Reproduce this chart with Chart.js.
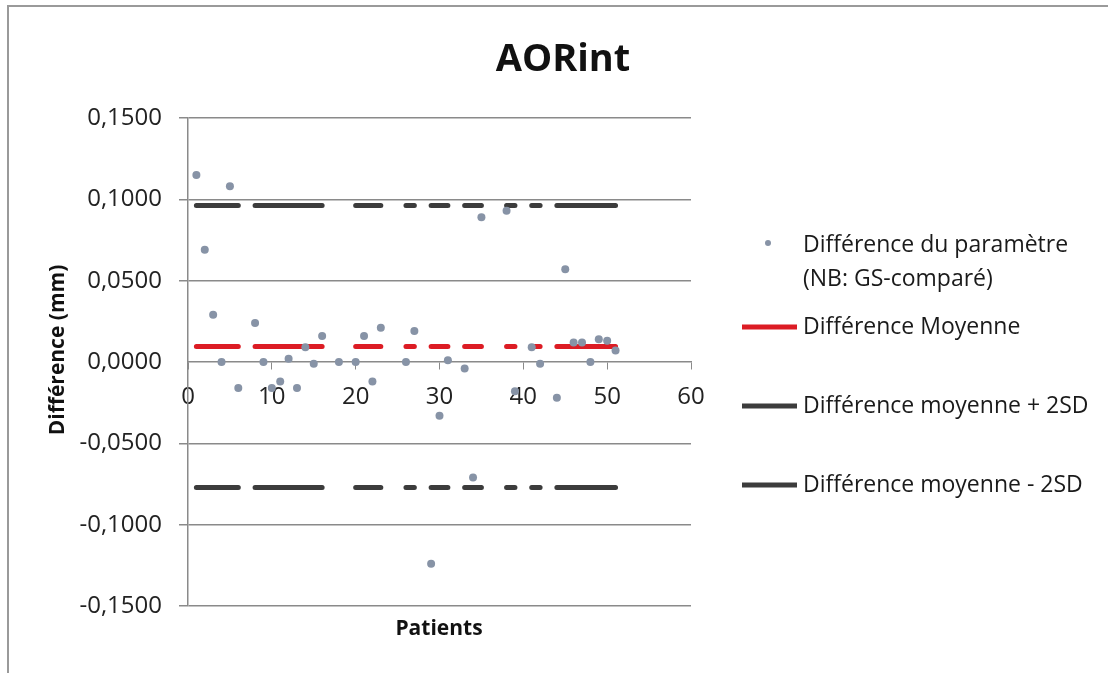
<!DOCTYPE html>
<html>
<head>
<meta charset="utf-8">
<script src="https://cdn.jsdelivr.net/npm/chart.js@4.4.1/dist/chart.umd.min.js"></script>
<style>
  html, body { margin: 0; padding: 0; background: #ffffff; }
  #c { display: block; }
</style>
</head>
<body>
<canvas id="c" width="1108" height="673"></canvas>
<script>
// ---- Data ----
const chartTitle = 'AORint';
const xAxisTitle = 'Patients';
const yAxisTitle = 'Différence (mm)';

const patients = [1, 2, 3, 4, 5, 6, 8, 9, 10, 11, 12, 13, 14, 15, 16, 18, 20, 21, 22, 23,
                  26, 27, 29, 30, 31, 33, 34, 35, 38, 39, 41, 42, 44, 45, 46, 47, 48, 49, 50, 51];
const differences = [0.115, 0.069, 0.029, 0.000, 0.108, -0.016, 0.024, 0.000, -0.016, -0.012,
                     0.002, -0.016, 0.009, -0.001, 0.016, 0.000, 0.000, 0.016, -0.012, 0.021,
                     0.000, 0.019, -0.124, -0.033, 0.001, -0.004, -0.071, 0.089, 0.093, -0.018,
                     0.009, -0.001, -0.022, 0.057, 0.012, 0.012, 0.000, 0.014, 0.013, 0.007];

// runs of consecutive patients over which the reference lines are drawn
const lineRuns = [[1, 6], [8, 16], [20, 23], [26, 27], [29, 31], [33, 35], [38, 39], [41, 42], [44, 51]];
const meanDifference = 0.0095;
const upperLimit = 0.0962;   // moyenne + 2SD
const lowerLimit = -0.0772;  // moyenne - 2SD

const seriesLabels = ['Différence du paramètre\n(NB: GS-comparé)', 'Différence Moyenne',
                      'Différence moyenne + 2SD', 'Différence moyenne - 2SD'];

const xTicks = [0, 10, 20, 30, 40, 50, 60];
const yTicks = [-0.15, -0.10, -0.05, 0, 0.05, 0.10, 0.15];

// ---- Build library data from the arrays ----
function runsAt(value) {
  const out = [];
  lineRuns.forEach(([a, b], i) => {
    for (let p = a; p <= b; p++) out.push({ x: p, y: value });
    if (i < lineRuns.length - 1) out.push({ x: b + 0.5, y: null });
  });
  return out;
}
const pointData = patients.map((p, i) => ({ x: p, y: differences[i] }));

const FONT = '"Open Sans", "DejaVu Sans", sans-serif';

const decorPlugin = {
  id: 'decor',
  beforeDraw(chart) {
    const ctx = chart.ctx;
    ctx.save();
    ctx.fillStyle = '#ffffff';
    ctx.fillRect(0, 0, chart.width, chart.height);
    ctx.strokeStyle = '#9a9a9a';
    ctx.lineWidth = 2;
    ctx.beginPath();
    ctx.moveTo(8, chart.height + 2);
    ctx.lineTo(8, 6);
    ctx.lineTo(chart.width + 2, 6);
    ctx.stroke();
    ctx.restore();
  },
  afterDraw(chart) {
    const ctx = chart.ctx;
    ctx.save();
    // title
    ctx.fillStyle = '#111111';
    ctx.font = 'bold 38px ' + FONT;
    ctx.textAlign = 'center';
    ctx.textBaseline = 'alphabetic';
    ctx.fillText(chartTitle, 563, 71);
    // x axis title
    ctx.font = 'bold 21px ' + FONT;
    ctx.fillText(xAxisTitle, 439, 635);
    // y axis title
    ctx.save();
    ctx.translate(58, 350);
    ctx.rotate(-Math.PI / 2);
    ctx.textBaseline = 'middle';
    ctx.fillText(yAxisTitle, 0, 0);
    ctx.restore();

    // legend
    const itemY = [245, 327, 406, 485];
    ctx.font = '23px ' + FONT;
    ctx.textAlign = 'left';
    ctx.textBaseline = 'middle';
    chart.data.datasets.forEach((ds, i) => {
      const y = itemY[i];
      if (ds.showLine) {
        ctx.strokeStyle = ds.borderColor;
        ctx.lineWidth = 5;
        ctx.lineCap = 'butt';
        ctx.beginPath();
        ctx.moveTo(742, y);
        ctx.lineTo(797, y);
        ctx.stroke();
      } else {
        ctx.fillStyle = ds.backgroundColor;
        ctx.beginPath();
        ctx.arc(768, y - 2, 3, 0, Math.PI * 2);
        ctx.fill();
      }
      ctx.fillStyle = '#1a1a1a';
      ds.label.split('\n').forEach((line, k) => {
        ctx.fillText(line, 803, y + k * 34);
      });
    });
    ctx.restore();
  }
};

const fmt = (v) => v.toFixed(4).replace('.', ',').replace(/^-0,0000$/, '0,0000');

new Chart(document.getElementById('c'), {
  type: 'scatter',
  data: {
    datasets: [
      {
        label: seriesLabels[0],
        data: pointData,
        backgroundColor: '#8793a6',
        borderColor: '#8793a6',
        pointRadius: 4,
        pointBorderWidth: 0,
        showLine: false
      },
      {
        label: seriesLabels[1],
        data: runsAt(meanDifference),
        showLine: true,
        spanGaps: false,
        borderColor: '#dc1c24',
        backgroundColor: '#dc1c24',
        borderWidth: 5,
        borderCapStyle: 'round',
        pointRadius: 0,
        pointHoverRadius: 0
      },
      {
        label: seriesLabels[2],
        data: runsAt(upperLimit),
        showLine: true,
        spanGaps: false,
        borderColor: '#3c3c3c',
        backgroundColor: '#3c3c3c',
        borderWidth: 5,
        borderCapStyle: 'round',
        pointRadius: 0,
        pointHoverRadius: 0
      },
      {
        label: seriesLabels[3],
        data: runsAt(lowerLimit),
        showLine: true,
        spanGaps: false,
        borderColor: '#3c3c3c',
        backgroundColor: '#3c3c3c',
        borderWidth: 5,
        borderCapStyle: 'round',
        pointRadius: 0,
        pointHoverRadius: 0
      }
    ]
  },
  options: {
    responsive: false,
    devicePixelRatio: 1,
    animation: false,
    layout: { padding: { left: 8, top: 118, right: 417, bottom: 67 } },
    plugins: {
      legend: { display: false },
      title: { display: false },
      tooltip: { enabled: false }
    },
    scales: {
      x: {
        type: 'linear',
        position: { y: 0 },
        min: xTicks[0],
        max: xTicks[xTicks.length - 1],
        afterBuildTicks: (scale) => { scale.ticks = xTicks.map(v => ({ value: v })); },
        ticks: {
          color: '#222222',
          font: { family: FONT, size: 24 },
          padding: 14,
          maxRotation: 0,
          callback: (v) => String(v)
        },
        grid: { drawOnChartArea: false, drawTicks: true, tickLength: 7, color: '#8a8a8a' },
        border: { display: true, color: '#8a8a8a', width: 1.5 }
      },
      y: {
        type: 'linear',
        min: yTicks[0],
        max: yTicks[yTicks.length - 1],
        afterBuildTicks: (scale) => { scale.ticks = yTicks.map(v => ({ value: v })); },
        afterFit: (scale) => { scale.width = 180; },
        ticks: {
          color: '#222222',
          font: { family: FONT, size: 24 },
          padding: 17,
          callback: (v) => fmt(v)
        },
        grid: {
          color: (c) => (c.tick && c.tick.value === 0 ? 'rgba(0,0,0,0)' : '#8a8a8a'),
          lineWidth: 1.5,
          drawTicks: true,
          tickLength: 9
        },
        border: { display: true, color: '#8a8a8a', width: 1.5 }
      }
    }
  },
  plugins: [decorPlugin]
});
</script>
</body>
</html>
